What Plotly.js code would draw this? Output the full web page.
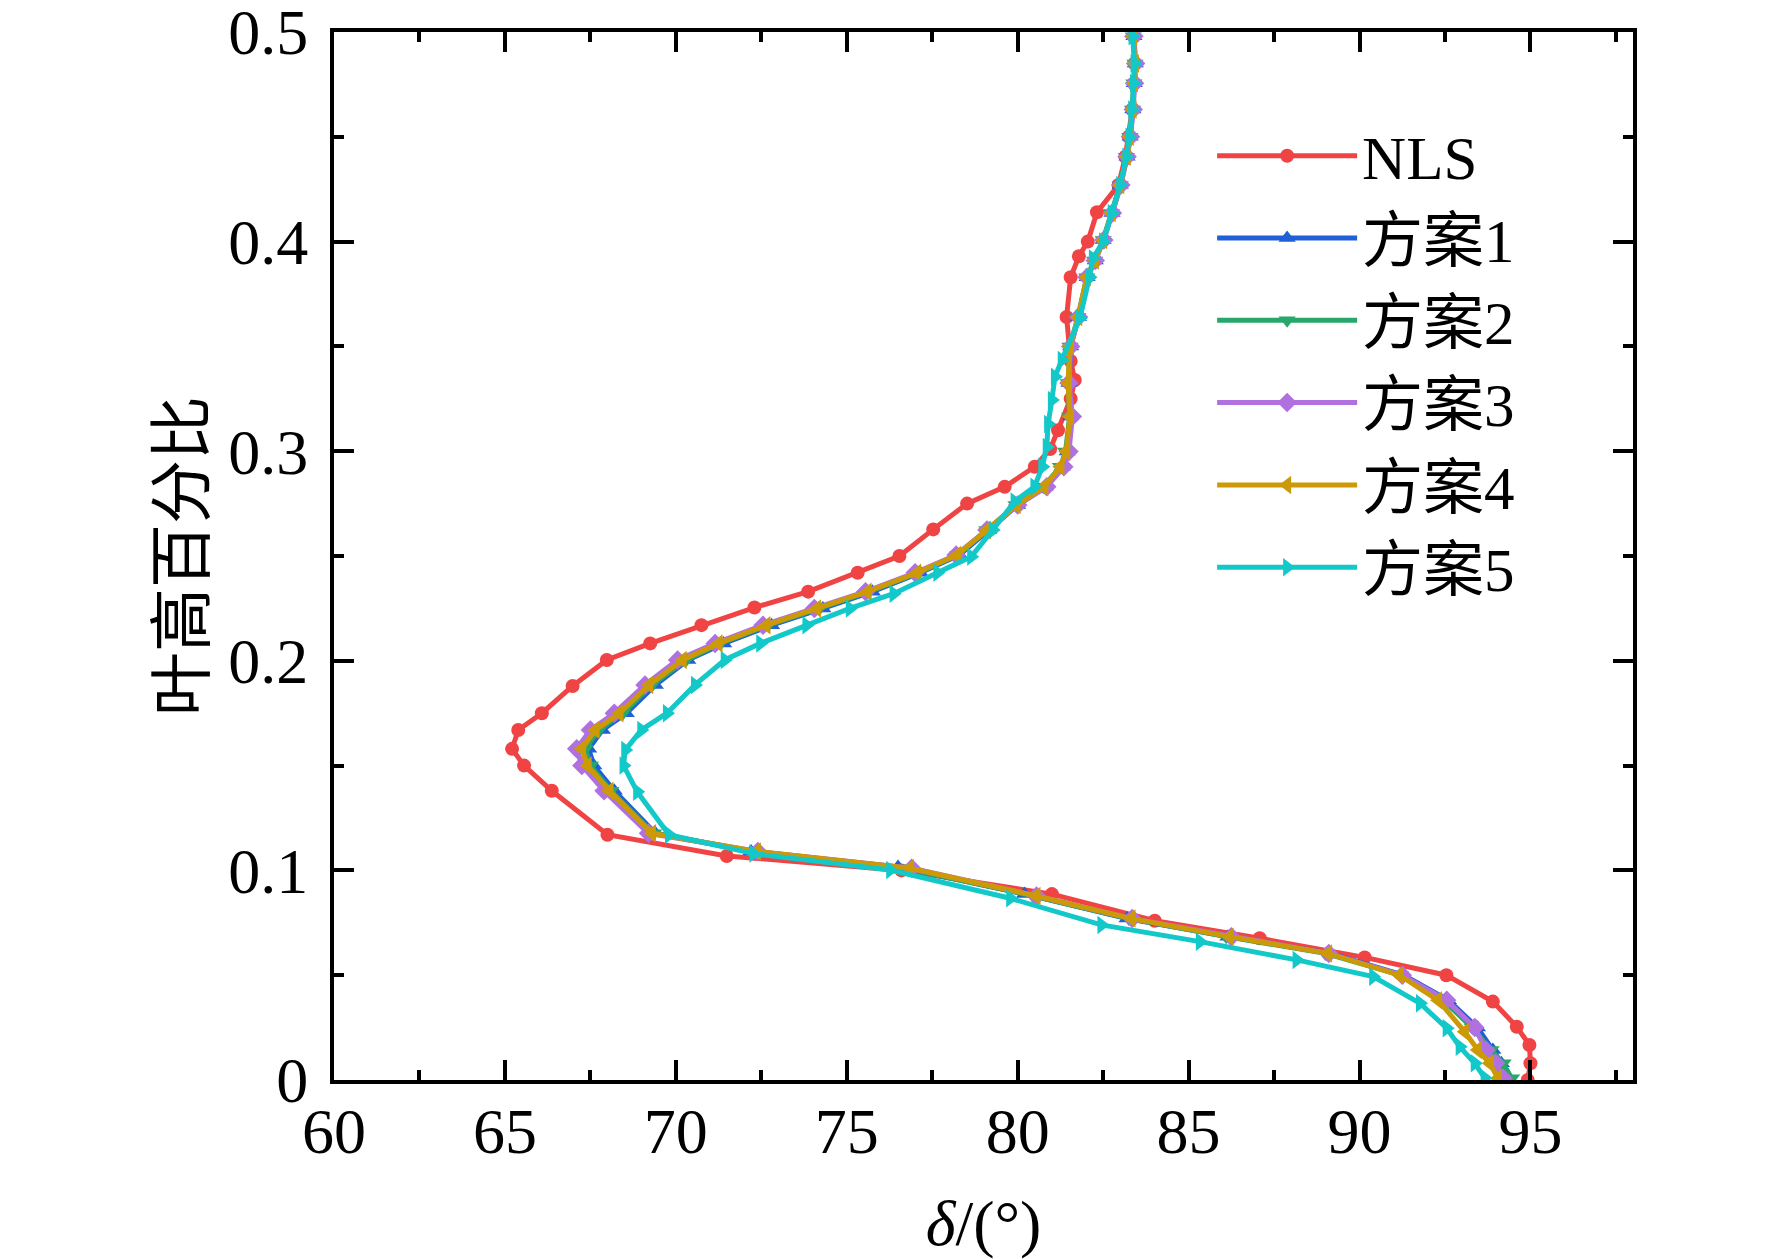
<!DOCTYPE html>
<html>
<head>
<meta charset="utf-8">
<script src="https://cdn.plot.ly/plotly-3.0.1.min.js"></script>
<style>
  html, body { margin: 0; padding: 0; background: #fff; }
  #chart { width: 1772px; height: 1259px; }
</style>
</head>
<body>
<div id="chart"></div>
<script>
// Blade deviation angle vs. span fraction

const seriesNames = ['NLS', '方案1', '方案2', '方案3', '方案4', '方案5'];

// NLS
const nlsY = [0.0, 0.008, 0.0167, 0.0254, 0.0374, 0.050, 0.0585, 0.0676, 0.076, 0.0887, 0.100, 0.1069, 0.117,
  0.138, 0.150, 0.158, 0.167, 0.175, 0.188, 0.2004, 0.2083, 0.217, 0.2254, 0.233, 0.242, 0.250, 0.2627,
  0.275, 0.283, 0.2926, 0.301, 0.310, 0.325, 0.334, 0.343, 0.364, 0.383, 0.393, 0.400, 0.414, 0.427,
  0.4405, 0.450, 0.463, 0.4755, 0.485, 0.498, 0.51];
const nlsX = [94.92, 95.0, 94.97, 94.6, 93.9, 92.54, 90.15, 87.08, 84.01, 81.0, 76.6, 71.49, 68.0,
  66.37, 65.56, 65.21, 65.39, 66.08, 66.98, 67.98, 69.25, 70.75, 72.3, 73.87, 75.32, 76.54, 77.53,
  78.52, 79.62, 80.5, 80.95, 81.18, 81.55, 81.67, 81.55, 81.43, 81.55, 81.79, 82.05, 82.32, 82.95,
  83.15, 83.25, 83.35, 83.4, 83.42, 83.4, 83.45];

// 方案1
const s1Y = [0.0008, 0.008, 0.0143, 0.025, 0.038, 0.050, 0.0604, 0.0684, 0.077, 0.0888, 0.1016, 0.109, 0.1177,
  0.138, 0.150, 0.158, 0.167, 0.175, 0.1885, 0.2004, 0.2083, 0.217, 0.225, 0.233, 0.242, 0.2505, 0.2624,
  0.2743, 0.283, 0.2926, 0.2998, 0.3165, 0.3325, 0.350, 0.364, 0.383, 0.391, 0.4008, 0.4136, 0.427,
  0.4405, 0.450, 0.463, 0.4755, 0.485, 0.498, 0.51];
const s1X = [94.35, 94.15, 93.9, 93.45, 92.6, 91.3, 89.15, 86.15, 83.2, 80.2, 76.5, 72.2, 69.4,
  68.2, 67.6, 67.45, 67.85, 68.55, 69.4, 70.35, 71.4, 72.8, 74.3, 75.75, 77.15, 78.3, 79.15,
  80.0, 80.8, 81.3, 81.45, 81.55, 81.5, 81.55, 81.78, 82.03, 82.27, 82.5, 82.76, 83.0,
  83.2, 83.29, 83.37, 83.41, 83.44, 83.4, 83.45];

// 方案2
const s2Y = [0.0008, 0.008, 0.0143, 0.025, 0.038, 0.050, 0.0604, 0.0684, 0.077, 0.0878, 0.101, 0.109, 0.1177,
  0.138, 0.150, 0.158, 0.167, 0.175, 0.1885, 0.2004, 0.2083, 0.217, 0.225, 0.233, 0.242, 0.2505, 0.2624,
  0.2743, 0.283, 0.2926, 0.2998, 0.3165, 0.3325, 0.350, 0.364, 0.383, 0.391, 0.4008, 0.4136, 0.427,
  0.4405, 0.450, 0.463, 0.4755, 0.485, 0.498, 0.51];
const s2X = [94.45, 94.2, 93.85, 93.3, 92.45, 91.2, 89.0, 86.1, 83.25, 80.45, 76.7, 72.3, 69.35,
  68.1, 67.5, 67.35, 67.75, 68.45, 69.3, 70.3, 71.3, 72.7, 74.2, 75.65, 77.1, 78.25, 79.1,
  79.95, 80.75, 81.25, 81.4, 81.52, 81.48, 81.53, 81.76, 82.02, 82.25, 82.5, 82.74, 83.0,
  83.18, 83.28, 83.36, 83.4, 83.43, 83.38, 83.44];

// 方案3
const s3Y = [0.0008, 0.008, 0.0143, 0.025, 0.038, 0.050, 0.0604, 0.0684, 0.077, 0.0878, 0.101, 0.109, 0.1177,
  0.138, 0.150, 0.158, 0.167, 0.175, 0.1885, 0.2004, 0.2083, 0.217, 0.225, 0.233, 0.242, 0.2505, 0.2624,
  0.2743, 0.283, 0.2926, 0.2998, 0.3165, 0.3325, 0.350, 0.364, 0.383, 0.391, 0.4008, 0.4136, 0.427,
  0.4405, 0.450, 0.463, 0.4755, 0.485, 0.498, 0.51];
const s3X = [94.2, 93.98, 93.7, 93.37, 92.55, 91.25, 89.1, 86.25, 83.35, 80.55, 76.9, 72.4, 69.2,
  67.9, 67.25, 67.1, 67.5, 68.2, 69.1, 70.05, 71.15, 72.55, 74.05, 75.55, 77.0, 78.2, 79.1,
  80.0, 80.85, 81.35, 81.5, 81.6, 81.5, 81.55, 81.78, 82.03, 82.27, 82.52, 82.77, 83.02,
  83.2, 83.3, 83.38, 83.42, 83.45, 83.4, 83.46];

// 方案4
const s4Y = [0.0008, 0.008, 0.0143, 0.023, 0.038, 0.050, 0.0604, 0.0684, 0.077, 0.0878, 0.101, 0.109, 0.1177,
  0.138, 0.150, 0.158, 0.167, 0.175, 0.1885, 0.2004, 0.2083, 0.217, 0.225, 0.233, 0.242, 0.2505, 0.2624,
  0.2743, 0.283, 0.2926, 0.2998, 0.3165, 0.3325, 0.350, 0.364, 0.383, 0.391, 0.4008, 0.4136, 0.427,
  0.4405, 0.450, 0.463, 0.4755, 0.485, 0.498, 0.51];
const s4X = [94.05, 93.81, 93.46, 93.08, 92.3, 91.17, 89.08, 86.2, 83.33, 80.55, 76.85, 72.37, 69.3,
  68.06, 67.42, 67.25, 67.65, 68.35, 69.22, 70.2, 71.25, 72.65, 74.13, 75.61, 77.06, 78.23, 79.1,
  79.97, 80.78, 81.25, 81.42, 81.53, 81.47, 81.53, 81.77, 82.02, 82.26, 82.5, 82.75, 83.0,
  83.19, 83.28, 83.36, 83.4, 83.43, 83.38, 83.45];

// 方案5
const s5Y = [0.001, 0.008, 0.0159, 0.0247, 0.0366, 0.0493, 0.0573, 0.066, 0.074, 0.0867, 0.1002, 0.108, 0.117,
  0.1375, 0.150, 0.1574, 0.167, 0.175, 0.1885, 0.2004, 0.2083, 0.217, 0.225, 0.232, 0.242, 0.2497, 0.2624,
  0.276, 0.283, 0.2926, 0.302, 0.313, 0.3244, 0.3355, 0.3435, 0.3635, 0.383, 0.392, 0.400, 0.4136, 0.427,
  0.4405, 0.450, 0.463, 0.4755, 0.485, 0.498, 0.51];
const s5X = [93.66, 93.37, 92.93, 92.55, 91.77, 90.4, 88.16, 85.33, 82.45, 79.78, 76.27, 72.27, 69.8,
  68.87, 68.47, 68.52, 68.99, 69.74, 70.56, 71.43, 72.47, 73.82, 75.09, 76.37, 77.65, 78.64, 79.27,
  79.91, 80.49, 80.72, 80.85, 80.89, 81.0, 81.09, 81.29, 81.82, 82.1, 82.2, 82.5, 82.75, 83.0,
  83.18, 83.27, 83.35, 83.4, 83.42, 83.36, 83.44];

const xTickVals = [60, 65, 70, 75, 80, 85, 90, 95];
const yTickVals = [0, 0.1, 0.2, 0.3, 0.4, 0.5];
const yTickText = ['0', '0.1', '0.2', '0.3', '0.4', '0.5'];

const colors = ['#f04444', '#1f5fd8', '#27a86a', '#b070e0', '#cc9a06', '#12c8c8'];
const symbols = ['circle', 'triangle-up', 'triangle-down', 'diamond', 'triangle-left', 'triangle-right'];
const markerSizes = [14, 15, 15, 15, 16, 16];

const xs = [nlsX, s1X, s2X, s3X, s4X, s5X];
const ys = [nlsY, s1Y, s2Y, s3Y, s4Y, s5Y];

const serif = '"Times New Roman", "Liberation Serif", "Noto Sans CJK SC", serif';

const data = seriesNames.map(function(name, i) {
    return {
        type: 'scatter',
        mode: 'lines+markers',
        name: name,
        x: xs[i],
        y: ys[i],
        line: { color: colors[i], width: 5 },
        marker: { color: colors[i], symbol: symbols[i], size: markerSizes[i] }
    };
});

const axisCommon = {
    showline: true,
    linecolor: '#000',
    linewidth: 4,
    mirror: 'allticks',
    ticks: 'inside',
    ticklen: 20,
    tickwidth: 4,
    tickcolor: '#000',
    showgrid: false,
    zeroline: false,
    ticklabeloverflow: 'allow',
    tickfont: { family: serif, size: 64, color: '#000' }
};

const layout = {
    width: 1772,
    height: 1259,
    margin: { l: 334, r: 139, t: 32, b: 179 },
    paper_bgcolor: '#fff',
    plot_bgcolor: '#fff',
    font: { family: serif, color: '#000' },
    showlegend: true,
    legend: {
        x: 0.676,
        y: 0.926,
        xanchor: 'left',
        yanchor: 'top',
        bgcolor: 'rgba(0,0,0,0)',
        itemwidth: 140,
        font: { family: serif, size: 61, color: '#000' }
    },
    xaxis: Object.assign({}, axisCommon, {
        range: [60, 98],
        tickvals: xTickVals,
        ticklabelstandoff: -8,
        minor: { ticks: 'inside', ticklen: 10, tickwidth: 4, tickcolor: '#000', dtick: 2.5, tick0: 60 },
        title: { text: '<i>δ</i>/(°)', font: { family: serif, size: 64, color: '#000' }, standoff: 38 }
    }),
    yaxis: Object.assign({}, axisCommon, {
        range: [0, 0.5],
        tickvals: yTickVals,
        ticktext: yTickText,
        ticklabelstandoff: 9,
        minor: { ticks: 'inside', ticklen: 10, tickwidth: 4, tickcolor: '#000', dtick: 0.05, tick0: 0 },
        title: { text: '叶高百分比', font: { family: serif, size: 64, color: '#000' }, standoff: 4 }
    })
};

const config = { responsive: false, displayModeBar: false, staticPlot: true };

Plotly.newPlot('chart', data, layout, config);
</script>
</body>
</html>
